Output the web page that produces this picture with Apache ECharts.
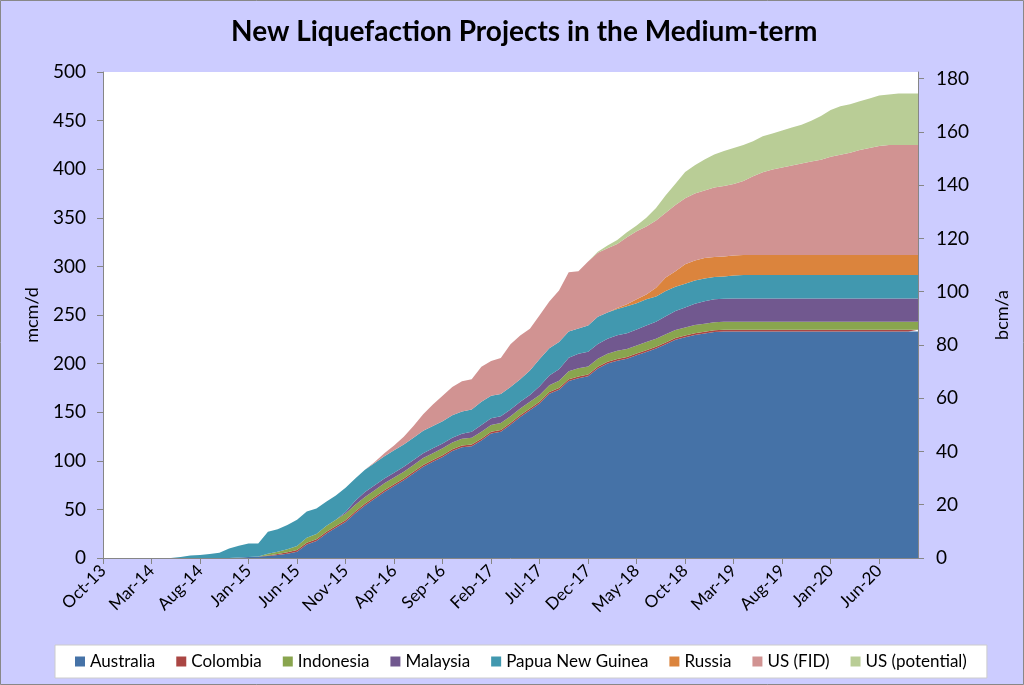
<!DOCTYPE html>
<html>
<head>
<meta charset="utf-8">
<script src="https://cdn.jsdelivr.net/npm/echarts@6/dist/echarts.min.js"></script>
<style>
html,body{margin:0;padding:0;background:#CCCCFF;}
#c{width:1024px;height:685px;}
</style>
</head>
<body>
<div id="c"></div>
<script>
var categories = [
'Oct-13','Nov-13','Dec-13',
'Jan-14','Feb-14','Mar-14','Apr-14','May-14','Jun-14','Jul-14','Aug-14','Sep-14','Oct-14','Nov-14','Dec-14',
'Jan-15','Feb-15','Mar-15','Apr-15','May-15','Jun-15','Jul-15','Aug-15','Sep-15','Oct-15','Nov-15','Dec-15',
'Jan-16','Feb-16','Mar-16','Apr-16','May-16','Jun-16','Jul-16','Aug-16','Sep-16','Oct-16','Nov-16','Dec-16',
'Jan-17','Feb-17','Mar-17','Apr-17','May-17','Jun-17','Jul-17','Aug-17','Sep-17','Oct-17','Nov-17','Dec-17',
'Jan-18','Feb-18','Mar-18','Apr-18','May-18','Jun-18','Jul-18','Aug-18','Sep-18','Oct-18','Nov-18','Dec-18',
'Jan-19','Feb-19','Mar-19','Apr-19','May-19','Jun-19','Jul-19','Aug-19','Sep-19','Oct-19','Nov-19','Dec-19',
'Jan-20','Feb-20','Mar-20','Apr-20','May-20','Jun-20','Jul-20','Aug-20','Sep-20','Oct-20'
];

var australia = [0,0,0,0,0,0,0,0,0,0,0,0,0,0,
0.5,1,1.5,2,3,4.5,6.5,14,17.5,25,31,37,46,54,61,68,74,80,87,94,99,104,110,114,115,121,128,130,137,145,152,159,169,173,182,185,187,195,200,203,205,208.5,212,215.5,220,224.5,227,229.5,231,232.5,
233,233,233,233,233,233,233,233,233,233,233,233,233,233,233,233,233,233,233,233,233];

var colombia = [0,0,0,0,0,0,0,0,0,0,0,0,0,0,0,0,0,
0.5,1,1.5,
1.8,1.8,1.8,1.8,1.8,1.8,1.8,1.8,1.8,1.8,1.8,1.8,1.8,1.8,1.8,1.8,1.8,1.8,1.8,1.8,1.8,1.8,1.8,1.8,1.8,1.8,1.8,1.8,1.8,1.8,1.8,1.8,1.8,1.8,1.8,1.8,1.8,1.8,1.8,1.8,1.8,1.8,1.8,1.8,1.8,1.8,1.8,1.8,1.8,1.8,1.8,1.8,1.8,1.8,1.8,1.8,1.8,1.8,1.8,1.8,1.8,1.8,1.8,1.8,1.8];

var indonesia = [0,0,0,0,0,0,0,0,0,0,0,0,0,0,0,0,0,
2,2.5,3,4,5,5.5,6,6.5,
7,7,7,7,7,7,7,7,7,7,7,7,7,7,7,7,7,7,7,7,7,7,
7.5,
8.3,8.3,8.3,8.3,8.3,8.3,8.3,8.3,8.3,8.3,8.3,8.3,8.3,8.3,8.3,8.3,8.3,8.3,8.3,8.3,8.3,8.3,8.3,8.3,8.3,8.3,8.3,8.3,8.3,8.3,8.3,8.3,8.3,8.3,8.3,8.3,8.3];

var malaysia = [0,0,0,0,0,0,0,0,0,0,0,0,0,0,0,0,0,0,0,0,0,0,0,0,0,
1.5,4,5,5,5,5,5,5,5,5,5,5,5,6,7,7,7,7,7,7,
9,10,12,14,15,15,15,15.5,16,16,16.5,17,17.5,18.5,19.5,20.5,22,23,23.5,23.5,
24,24,24,24,24,24,24,24,24,24,24,24,24,24,24,24,24,24,24,24];

var png = [0,0,0,0,0,0,0,0,
1,2.5,3,4,5.5,9.9,12,14,13.5,22.5,23,25,27,27,26,25,25,25,
23,23,23,23,23,23,23,23,23,23,23,23,23,
24,23,23,23,23,
25,28,28,28,27,26,27,28,27,27,28,27,27,26,26,25,24.5,24,23.5,23,23,23.5,
24,24,24,24,24,24,24,24,24,24,24,24,24,24,24,24,24,24,24];

var russia = [0,0,0,0,0,0,0,0,0,0,0,0,0,0,0,0,0,0,0,0,0,0,0,0,0,0,0,0,0,0,0,0,0,0,0,0,0,0,0,0,0,0,0,0,0,0,0,0,0,0,0,0,0,
1,2,4,5,9,14,16,20,20.5,21,20.5,
20.7,20.7,20.7,20.7,20.7,20.7,20.7,20.7,20.7,20.7,20.7,20.7,20.7,20.7,20.7,20.7,20.7,20.7,20.7,20.7,20.7];

var usFid = [0,0,0,0,0,0,0,0,0,0,0,0,0,0,0,0,0,0,0,0,0,0,0,0,0,0,0,0,
1,3,5,8,12,17,22,26,29,31,
31,36,36,37,44,45,43,45,48,53,
61,59,66,66,66,66,69,70,70,69,
66.5,68,68,69,69.5,71.5,72.5,73.5,76,81,
85,88,90,92,94,96,98,101,103,105,
108,110,112,113,113,113,113];

var usPotential = [0,0,0,0,0,0,0,0,0,0,0,0,0,0,0,0,0,0,0,0,0,0,0,0,0,0,0,0,0,0,0,0,0,0,0,0,0,0,0,0,0,0,0,0,0,0,0,0,0,0,0,
1,3,4,5,6,9,13,18,22,27,
29,32,34,36,37,37,36,37,37,38,
39,40,42,45,48,50,50,50,51,52,
52,53,53,53];

var seriesNames = ['Australia','Colombia','Indonesia','Malaysia','Papua New Guinea','Russia','US (FID)','US (potential)'];
var seriesData = [australia, colombia, indonesia, malaysia, png, russia, usFid, usPotential];
var colors = ['#4572A7','#AA4643','#89A54E','#71588F','#4198AF','#DB843D','#D19392','#B9CD96'];

var FONT = 'Lato';
var chart = echarts.init(document.getElementById('c'), null, {renderer:'canvas'});

var series = seriesNames.map(function(n, k){
  return {
    name: n, type: 'line', stack: 'total', data: seriesData[k],
    showSymbol: false, symbol: 'none',
    lineStyle: {width: 0},
    areaStyle: {color: colors[k], opacity: 1},
    itemStyle: {color: colors[k]},
    emphasis: {disabled: true},
    animation: false
  };
});

chart.setOption({
  backgroundColor: '#CCCCFF',
  animation: false,
  title: {
    text: 'New Liquefaction Projects in the Medium-term',
    left: 226, top: 13,
    textStyle: {fontFamily: FONT, fontSize: 28, fontWeight: 'bold', color: '#000'}
  },
  legend: {
    data: seriesNames,
    bottom: 7, left: 55,
    icon: 'rect', itemWidth: 10, itemHeight: 10, itemGap: 21,
    backgroundColor: '#fff', borderColor: '#ccc', borderWidth: 1,
    padding: [8, 20, 8, 20],
    textStyle: {fontFamily: FONT, fontSize: 17, color: '#000'},
    selectedMode: false
  },
  grid: {left: 103, right: 106, top: 72, bottom: 127, show: true, backgroundColor: '#fff', borderWidth: 0},
  xAxis: {
    type: 'category', data: categories, boundaryGap: false,
    axisLine: {lineStyle: {color: '#868686', width: 1}},
    axisTick: {interval: 4, length: 6, lineStyle: {color: '#868686'}},
    axisLabel: {interval: 4, rotate: 45, fontFamily: FONT, fontSize: 17, color: '#000', margin: 10},
    splitLine: {show: false}
  },
  yAxis: [{
    type: 'value', min: 0, max: 500, interval: 50, position: 'left',
    name: 'mcm/d', nameLocation: 'middle', nameGap: 62, nameRotate: 90,
    nameTextStyle: {fontFamily: FONT, fontSize: 18, color: '#000'},
    axisLine: {show: true, lineStyle: {color: '#868686'}},
    axisTick: {show: true, length: 6, lineStyle: {color: '#868686'}},
    axisLabel: {fontFamily: FONT, fontSize: 19, color: '#000', margin: 17},
    splitLine: {show: false}
  },{
    type: 'value', min: 0, max: 182.5, interval: 20, position: 'right',
    name: 'bcm/a', nameLocation: 'middle', nameGap: 75, nameRotate: 90,
    nameTextStyle: {fontFamily: FONT, fontSize: 18, color: '#000'},
    axisLine: {show: true, lineStyle: {color: '#868686'}},
    axisTick: {show: true, length: 6, lineStyle: {color: '#868686'}},
    axisLabel: {fontFamily: FONT, fontSize: 19, color: '#000', margin: 18, showMaxLabel: false},
    splitLine: {show: false}
  }],
  graphic: [{
    type: 'rect', shape: {x: 0.5, y: 0.5, width: 1023, height: 684},
    style: {fill: 'none', stroke: '#888', lineWidth: 1}, silent: true, z: 100
  }],
  series: series
});
</script>
</body>
</html>
